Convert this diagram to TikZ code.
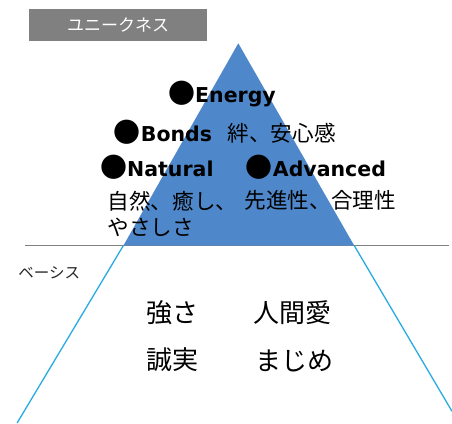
\documentclass[tikz,border=0pt]{standalone}
\usepackage{fontspec}
\setmainfont{DejaVu Sans}
\newfontfamily\jpfont{Noto Sans CJK JP}
\newcommand\bul{{\jpfont\fontsize{27}{27}\selectfont\raisebox{-1pt}{●}}}
\definecolor{triblue}{RGB}{79,136,202}
\definecolor{lineblue}{RGB}{41,171,226}
\definecolor{boxgray}{RGB}{128,128,128}
\begin{document}
\begin{tikzpicture}[x=1pt,y=-1pt,
  lbl/.style={inner sep=0pt, anchor=base west, font=\fontsize{20.5}{24}\selectfont\bfseries},
  jtxt/.style={inner sep=0pt, anchor=base west, font=\jpfont\fontsize{21.6}{26}\selectfont},
  big/.style={inner sep=0pt, font=\jpfont\fontsize{26}{30}\selectfont},
  side/.style={line width=1.3pt, draw=lineblue},
  sep/.style={line width=0.9pt, draw=boxgray}]
\useasboundingbox (0,0) rectangle (452,423);
% geometry
\coordinate (apex) at (238.3,43.3);
\coordinate (bl) at (123.3,245.7);
\coordinate (br) at (354.3,245.7);
\coordinate (ll) at (17.1,423);
\coordinate (rr) at (452,411.3);
\coordinate (hl) at (25,245.7);
\coordinate (hr) at (449,245.7);
\draw[sep] (hl) -- (hr);
\fill[triblue] (apex) -- (bl) -- (br) -- cycle;
\draw[side] (bl) -- (ll);
\draw[side] (br) -- (rr);
% header box
\node[fill=boxgray, minimum width=178pt, minimum height=31.4pt, inner sep=0pt,
      text=white, font=\jpfont\fontsize{17}{20}\selectfont] (uniq) at (118,25) {ユニークネス};
\node[inner sep=0pt, text=black!85, font=\jpfont\fontsize{15.5}{18}\selectfont] (base) at (49.2,273) {ベーシス};
% labels
\node[lbl] (energy) at (168,102.3) {\bul Energy};
\node[lbl] (bonds) at (113.7,141) {\bul Bonds};
\node[jtxt] (bondsj) at (227.5,141.5) {絆、安心感};
\node[lbl] (natural) at (100,176) {\bul Natural};
\node[lbl] (advanced) at (245.7,176) {\bul Advanced};
\node[jtxt] (nat1) at (107.5,209) {自然、癒し、};
\node[jtxt] (nat2) at (107.5,235.5) {やさしさ};
\node[jtxt] (adv1) at (244.5,208.5) {先進性、合理性};
% base texts
\node[big] (tsuyosa) at (172.8,312.5) {強さ};
\node[big] (ningen) at (292.5,312.5) {人間愛};
\node[big] (seijitsu) at (172,360) {誠実};
\node[big] (majime) at (294.5,361) {まじめ};
\end{tikzpicture}
\end{document}
